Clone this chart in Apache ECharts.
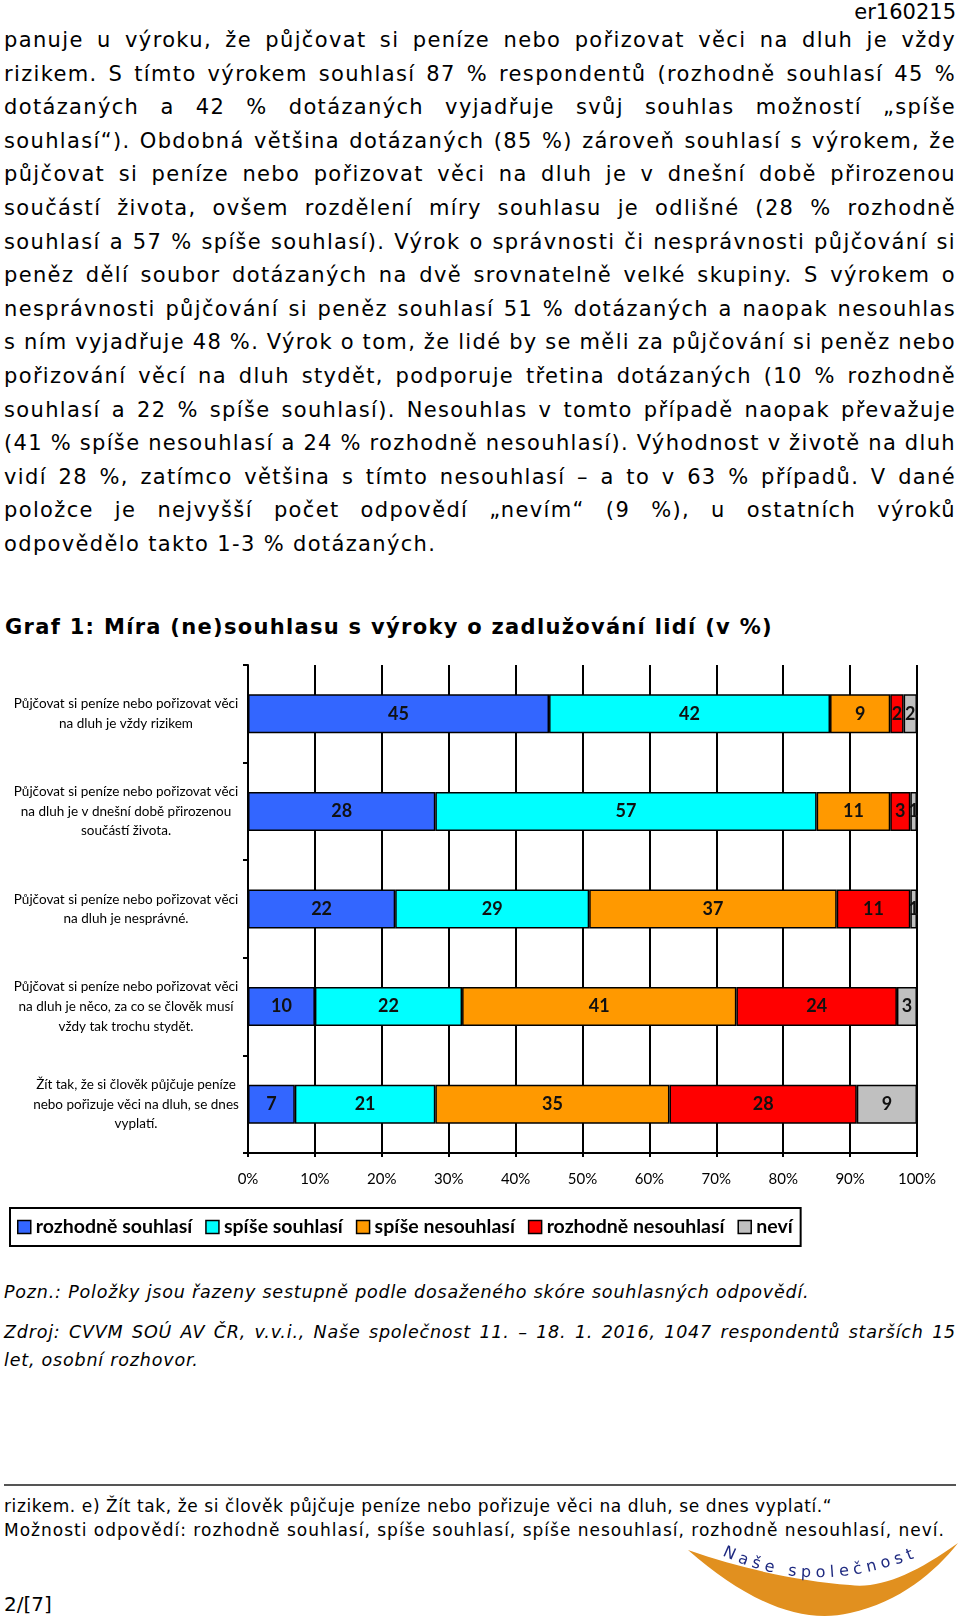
<!DOCTYPE html>
<html>
<head>
<meta charset="utf-8">
<script src="https://cdn.jsdelivr.net/npm/echarts@6/dist/echarts.min.js"></script>
<style>
  html, body { margin: 0; padding: 0; background: #fff; }
  body { width: 960px; height: 1617px; position: relative; overflow: hidden; font-family: "DejaVu Sans", Verdana, sans-serif; color: #000; }
  .abs { position: absolute; }
  .line { white-space: nowrap; }
  #chart { position: absolute; left: 0; top: 640px; width: 960px; height: 620px; }
</style>
</head>
<body>
<div class="abs" id="docid" style="right:4px; top:0px; font-size:21px; line-height:24px;">er160215</div>

<div class="abs" id="para" style="left:4px; top:24px; width:952px; font-size:21px; line-height:33.6px; letter-spacing:1.35px;">
  <div class="line j">panuje u výroku, že půjčovat si peníze nebo pořizovat věci na dluh je vždy</div>
  <div class="line j">rizikem. S tímto výrokem souhlasí 87 % respondentů (rozhodně souhlasí 45 %</div>
  <div class="line j">dotázaných a 42 % dotázaných vyjadřuje svůj souhlas možností „spíše</div>
  <div class="line j">souhlasí“). Obdobná většina dotázaných (85 %) zároveň souhlasí s výrokem, že</div>
  <div class="line j">půjčovat si peníze nebo pořizovat věci na dluh je v dnešní době přirozenou</div>
  <div class="line j">součástí života, ovšem rozdělení míry souhlasu je odlišné (28 % rozhodně</div>
  <div class="line j">souhlasí a 57 % spíše souhlasí). Výrok o správnosti či nesprávnosti půjčování si</div>
  <div class="line j">peněz dělí soubor dotázaných na dvě srovnatelně velké skupiny. S výrokem o</div>
  <div class="line j">nesprávnosti půjčování si peněz souhlasí 51 % dotázaných a naopak nesouhlas</div>
  <div class="line j">s ním vyjadřuje 48 %. Výrok o tom, že lidé by se měli za půjčování si peněz nebo</div>
  <div class="line j">pořizování věcí na dluh stydět, podporuje třetina dotázaných (10 % rozhodně</div>
  <div class="line j">souhlasí a 22 % spíše souhlasí). Nesouhlas v tomto případě naopak převažuje</div>
  <div class="line j">(41 % spíše nesouhlasí a 24 % rozhodně nesouhlasí). Výhodnost v životě na dluh</div>
  <div class="line j">vidí 28 %, zatímco většina s tímto nesouhlasí – a to v 63 % případů. V dané</div>
  <div class="line j">položce je nejvyšší počet odpovědí „nevím“ (9 %), u ostatních výroků</div>
  <div class="line">odpovědělo takto 1-3 % dotázaných.</div>
</div>

<div class="abs" style="left:5px; top:612px; font-size:21px; line-height:30px; font-weight:bold; letter-spacing:1.3px; white-space:nowrap;">Graf 1: Míra (ne)souhlasu s výroky o zadlužování lidí (v %)</div>

<div id="chart"></div>

<div class="abs" style="left:4px; top:1278px; font-size:17.5px; line-height:28px; font-style:italic; letter-spacing:0.8px; white-space:nowrap;">Pozn.: Položky jsou řazeny sestupně podle dosaženého skóre souhlasných odpovědí.</div>
<div class="abs" style="left:4px; top:1318px; width:952px; font-size:17.5px; line-height:28px; font-style:italic; letter-spacing:0.8px;">
  <div class="line j">Zdroj: CVVM SOÚ AV ČR, v.v.i., Naše společnost 11. – 18. 1. 2016, 1047 respondentů starších 15</div>
  <div class="line">let, osobní rozhovor.</div>
</div>

<div class="abs" style="left:4px; top:1484px; width:952px; height:2px; background:#555;"></div>
<div class="abs" style="left:4px; top:1494px; font-size:17px; line-height:24px; white-space:nowrap;">
  <div style="letter-spacing:0.6px;">rizikem. e) Žít tak, že si člověk půjčuje peníze nebo pořizuje věci na dluh, se dnes vyplatí.“</div>
  <div style="letter-spacing:1px;">Možnosti odpovědí: rozhodně souhlasí, spíše souhlasí, spíše nesouhlasí, rozhodně nesouhlasí, neví.</div>
</div>
<div class="abs" style="left:4px; top:1592px; font-size:20px; line-height:24px;">2/[7]</div>

<svg class="abs" style="left:0; top:0;" width="960" height="1617" viewBox="0 0 960 1617">
  <path d="M688,1550 C745,1600 800,1625 850,1613 C900,1602 935,1572 958,1543 C915,1574 880,1589 850,1585 C800,1581 745,1570 688,1550 Z" fill="#E1901F"/>
  <path id="logoPath" d="M722,1555 Q815,1600 924,1554" fill="none"/>
  <text font-family="DejaVu Sans, sans-serif" font-size="16" fill="#1F2A80" letter-spacing="4.8">
    <textPath href="#logoPath">Naše společnost</textPath>
  </text>
</svg>

<script>
// ---- Data ----
const categories = [
  "Půjčovat si peníze nebo pořizovat věci\nna dluh je vždy rizikem",
  "Půjčovat si peníze nebo pořizovat věci\nna dluh je v dnešní době přirozenou\nsoučástí života.",
  "Půjčovat si peníze nebo pořizovat věci\nna dluh je nesprávné.",
  "Půjčovat si peníze nebo pořizovat věci\nna dluh je něco, za co se člověk musí\nvždy tak trochu stydět.",
  "Žít tak, že si člověk půjčuje peníze\nnebo pořizuje věci na dluh, se dnes\nvyplatí."
];
const seriesNames = ["rozhodně souhlasí", "spíše souhlasí", "spíše nesouhlasí", "rozhodně nesouhlasí", "neví"];
const rozhodneSouhlasi   = [45, 28, 22, 10, 7];
const spiseSouhlasi      = [42, 57, 29, 22, 21];
const spiseNesouhlasi    = [ 9, 11, 37, 41, 35];
const rozhodneNesouhlasi = [ 2,  3, 11, 24, 28];
const nevi               = [ 2,  1,  1,  3,  9];
const seriesColors = ["#3366FF", "#00FFFF", "#FF9900", "#FF0000", "#C0C0C0"];
const xTickSuffix = "%";

// ---- Justify lines ----
function justifyLines() {
  document.querySelectorAll('.j').forEach(el => {
    const target = el.parentElement.clientWidth;
    const span = document.createElement('span');
    span.textContent = el.textContent;
    el.textContent = '';
    el.appendChild(span);
    const natural = span.getBoundingClientRect().width;
    const spaces = (span.textContent.match(/ /g) || []).length;
    if (spaces > 0) {
      el.style.wordSpacing = ((target - natural) / spaces) + 'px';
    }
  });
}
justifyLines();

// ---- Chart ----
const chart = echarts.init(document.getElementById('chart'), null, { renderer: 'canvas' });
const allSeries = [rozhodneSouhlasi, spiseSouhlasi, spiseNesouhlasi, rozhodneNesouhlasi, nevi];

const option = {
  animation: false,
  backgroundColor: 'transparent',
  grid: { left: 248, right: 43, top: 25, height: 488, containLabel: false, outerBoundsMode: 'none' },
  legend: {
    left: 10, top: 568,
    orient: 'horizontal',
    data: seriesNames,
    icon: 'rect',
    itemWidth: 13, itemHeight: 13,
    itemGap: 13,
    padding: [9, 8, 9, 7],
    borderColor: '#000', borderWidth: 2,
    itemStyle: { borderColor: '#000', borderWidth: 1.5 },
    textStyle: { fontFamily: 'Lato', fontWeight: 'bold', fontSize: 19.5, color: '#000' }
  },
  xAxis: {
    type: 'value', min: 0, max: 100, interval: 10,
    axisLine: { show: true, lineStyle: { color: '#000', width: 2 } },
    axisTick: { show: true, length: 4, lineStyle: { color: '#000', width: 2 } },
    splitLine: { show: true, lineStyle: { color: '#000', width: 2 } },
    axisLabel: { formatter: v => v + xTickSuffix, fontFamily: 'Lato', fontSize: 15, color: '#000', margin: 19 }
  },
  yAxis: {
    type: 'category', inverse: true,
    data: categories,
    axisLine: { show: true, lineStyle: { color: '#000', width: 2 } },
    axisTick: { show: true, length: 5, lineStyle: { color: '#000', width: 2 } },
    axisLabel: {
      fontFamily: 'Lato', fontSize: 13.5, lineHeight: 19.6, color: '#000', align: 'right', margin: 9,
      formatter: (value, index) => value.split('\n').map(l => '{' + (index === 4 ? 'b' : 'a') + '|' + l + '}').join('\n'),
      rich: {
        a: { width: 226, align: 'center', fontFamily: 'Lato', fontSize: 13.5, lineHeight: 19.6, color: '#000' },
        b: { width: 206, align: 'center', fontFamily: 'Lato', fontSize: 13.5, lineHeight: 19.6, color: '#000' }
      }
    }
  },
  series: seriesNames.map((name, i) => ({
    name,
    type: 'bar',
    stack: 'total',
    barWidth: '40%',
    data: allSeries[i],
    itemStyle: { color: seriesColors[i], borderColor: '#000', borderWidth: 1.5 },
    label: {
      show: true, position: 'inside',
      fontFamily: 'Lato', fontWeight: 'bold', fontSize: 18, color: '#111'
    }
  }))
};
chart.setOption(option);
</script>
</body>
</html>
